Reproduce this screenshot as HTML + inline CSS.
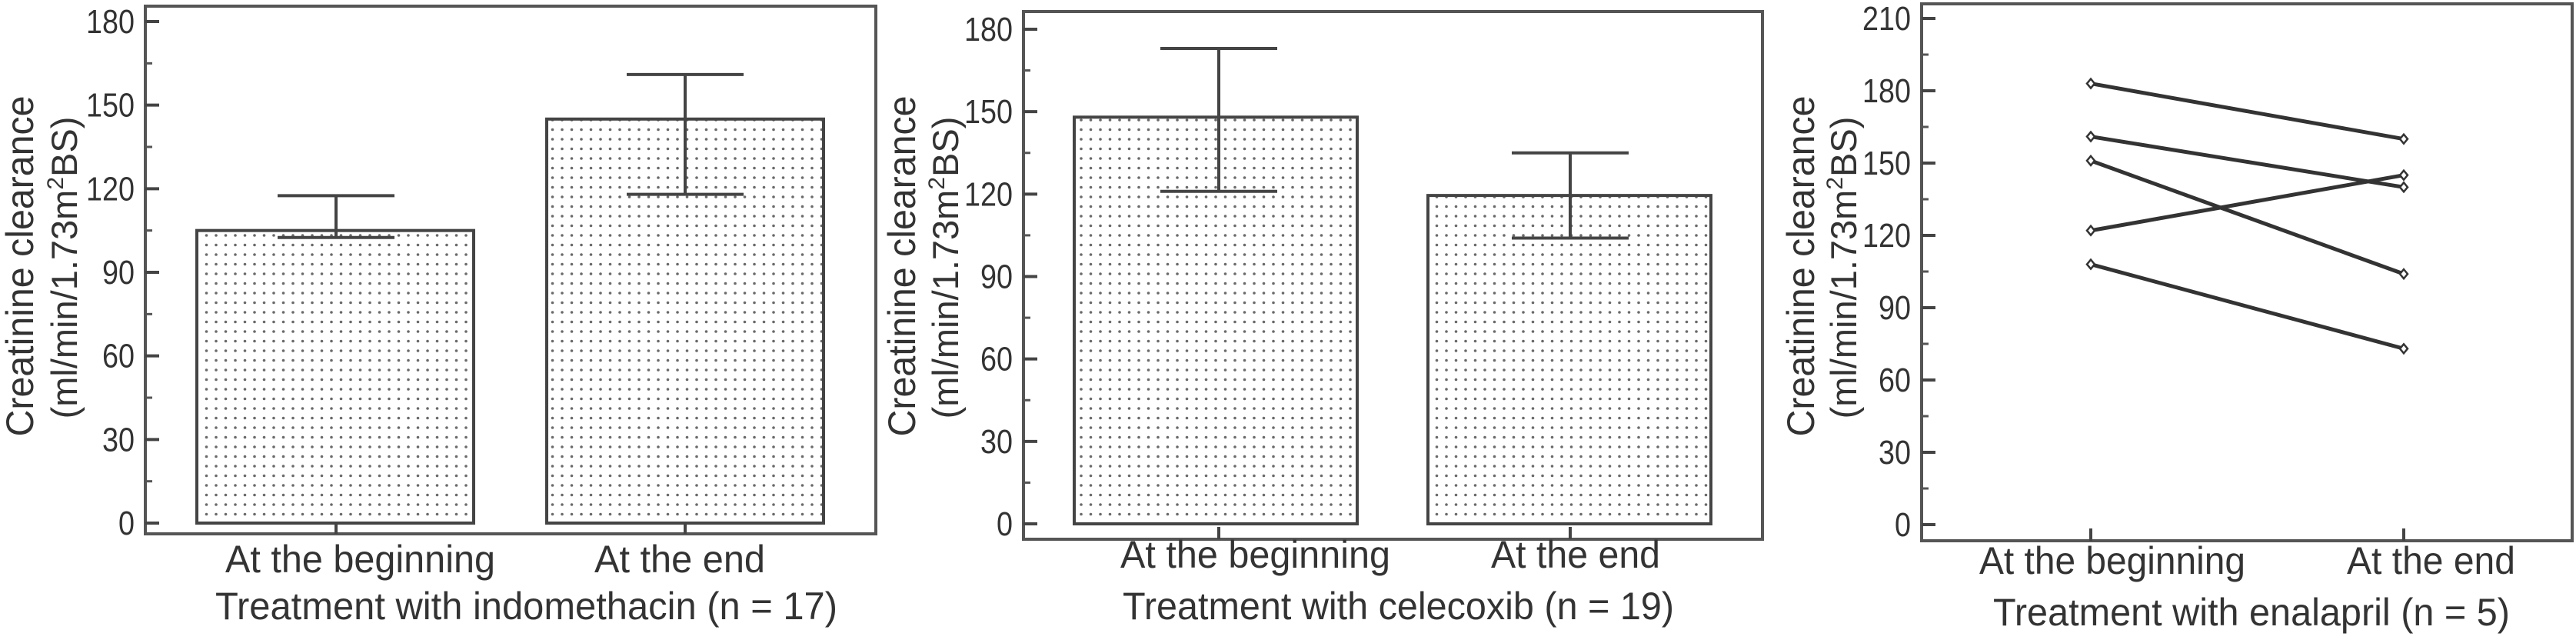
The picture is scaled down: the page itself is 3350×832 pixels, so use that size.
<!DOCTYPE html>
<html><head><meta charset="utf-8"><style>
html,body{margin:0;padding:0;background:#fff;}
svg{display:block;}
text{font-family:"Liberation Sans",sans-serif;fill:#333;}
</style></head><body>
<svg id="chart" width="3350" height="832" viewBox="0 0 3350 832" xmlns="http://www.w3.org/2000/svg">
<defs>
<pattern id="dots" width="12.5" height="12.5" patternUnits="userSpaceOnUse">
<rect width="12.5" height="12.5" fill="#fff"/>
<circle cx="6" cy="6" r="1.8" fill="#6a6a6a"/>
</pattern>
</defs>
</svg>
<script>
const categories = ["At the beginning", "At the end"];
const indoMeans = [105, 145];
const indoLow = [102.5, 118];
const indoHigh = [117.5, 161];
const celeMeans = [148, 119.5];
const celeLow = [121, 104];
const celeHigh = [173, 135];
const enalaprilBegin = [183, 161, 151, 122, 108];
const enalaprilEnd = [160, 140, 104, 145, 73];
const ticks180 = [0, 30, 60, 90, 120, 150, 180];
const ticks210 = [0, 30, 60, 90, 120, 150, 180, 210];
const titles = ["Treatment with indomethacin (n = 17)", "Treatment with celecoxib (n = 19)", "Treatment with enalapril (n = 5)"];

const NS = "http://www.w3.org/2000/svg";
const svg = document.getElementById("chart");
function mk(tag, attrs, parent) {
  const e = document.createElementNS(NS, tag);
  for (const k in attrs) e.setAttribute(k, attrs[k]);
  (parent || svg).appendChild(e);
  return e;
}
function txt(str, attrs, parent) {
  const t = mk("text", attrs, parent);
  t.textContent = str;
  return t;
}

function panel(p) {
  const g = mk("g", {});
  
  
  const y = v => p.y0 + (p.yTop - p.y0) * v / p.max;
  const fr = mk("rect", {x: p.fl, y: p.ft, width: p.fr - p.fl, height: p.fb - p.ft, fill: "none", stroke: "#555", "stroke-width": 4}, g);
  
  
  const ticks = p.ticks;
  for (let i = 0; i < ticks.length; i++) {
    const v = ticks[i];
    const tk = mk("line", {x1: p.fl, x2: p.fl + 18, y1: y(v), y2: y(v), stroke: "#444", "stroke-width": 4}, g);
    
    
    if (i < ticks.length - 1) {
      const mv = v + 15;
      const mt = mk("line", {x1: p.fl, x2: p.fl + 9, y1: y(mv), y2: y(mv), stroke: "#555", "stroke-width": 3}, g);
      
      
    }
    const s = String(v);
    const lb = txt(s, {x: p.labR, y: y(v) + 15, "text-anchor": "end", "font-size": 44, textLength: s.length * 21, lengthAdjust: "spacingAndGlyphs"}, g);
    
    
  }
  const yt1 = txt("Creatinine clearance", {x: 0, y: 0, "text-anchor": "middle", "font-size": 50, textLength: 443, lengthAdjust: "spacingAndGlyphs", transform: `translate(${p.yl1},346) rotate(-90)`}, g);
  
  
  const yt2 = txt("", {x: 0, y: 0, "text-anchor": "middle", "font-size": 47, transform: `translate(${p.yl2},348) rotate(-90)`}, g);
  
  
  const a = mk("tspan", {}, yt2); a.textContent = "(ml/min/1.73m";
  const b = mk("tspan", {dy: -18, "font-size": 30}, yt2); b.textContent = "2";
  const c = mk("tspan", {dy: 18}, yt2); c.textContent = "BS)";
  for (let i = 0; i < categories.length; i++) {
    const xt = mk("line", {x1: p.cx[i], x2: p.cx[i], y1: p.fb, y2: p.fb - 16, stroke: "#444", "stroke-width": 4}, g);
    
    
    const cl = txt(categories[i], {x: p.catL[i], y: p.catY, "font-size": 50, textLength: p.catW[i], lengthAdjust: "spacingAndGlyphs"}, g);
    
    
  }
  const tt = txt(p.title, {x: p.tL, y: p.tY, "font-size": 50, textLength: p.tW, lengthAdjust: "spacingAndGlyphs"}, g);
  
  
  return {g, y};
}

function barPanel(p, means, lows, highs) {
  const {g, y} = panel(p);
  for (let i = 0; i < means.length; i++) {
    const r = mk("rect", {x: p.barL[i], y: y(means[i]), width: p.barW, height: y(0) - y(means[i]), fill: "url(#dots)", stroke: "#444", "stroke-width": 4}, g);
    
    
    const cx = p.cx[i];
    const el = mk("path", {d: `M${cx},${y(lows[i])}V${y(highs[i])}M${cx - 76},${y(highs[i])}H${cx + 76}M${cx - 76},${y(lows[i])}H${cx + 76}`, stroke: "#444", "stroke-width": 4, fill: "none"}, g);
    
    
  }
}

barPanel({name: "indomethacin-panel", fl: 189, ft: 8, fr: 1139, fb: 694, y0: 680, yTop: 28, max: 180, ticks: ticks180, labR: 175,
  yl1: 43, yl2: 100, cx: [437, 891], catL: [293, 773], catW: [351, 222], catY: 744,
  title: titles[0], tL: 280, tY: 805, tW: 809, barL: [256, 711], barW: 360}, indoMeans, indoLow, indoHigh);

barPanel({name: "celecoxib-panel", fl: 1331, ft: 15, fr: 2292, fb: 701, y0: 681, yTop: 38, max: 180, ticks: ticks180, labR: 1317,
  yl1: 1190, yl2: 1246, cx: [1585, 2042], catL: [1457, 1939], catW: [351, 220], catY: 738,
  title: titles[1], tL: 1460, tY: 805, tW: 717, barL: [1397, 1857], barW: 368}, celeMeans, celeLow, celeHigh);

(function () {
  const p = {name: "enalapril-panel", fl: 2499, ft: 5, fr: 3345, fb: 703, y0: 682, yTop: 24, max: 210, ticks: ticks210, labR: 2485,
    yl1: 2359, yl2: 2414, cx: [2719, 3126], catL: [2574, 3052], catW: [346, 219], catY: 746,
    title: titles[2], tL: 2592, tY: 813, tW: 672};
  const {g, y} = panel(p);
  for (let i = 0; i < enalaprilBegin.length; i++) {
    const ln = mk("line", {x1: p.cx[0], y1: y(enalaprilBegin[i]), x2: p.cx[1], y2: y(enalaprilEnd[i]), stroke: "#333", "stroke-width": 5}, g);
    
    
    [[p.cx[0], enalaprilBegin[i]], [p.cx[1], enalaprilEnd[i]]].forEach(([x, v]) => {
      const yy = y(v);
      const m = mk("path", {d: `M${x},${yy - 6}L${x + 5},${yy}L${x},${yy + 6}L${x - 5},${yy}Z`, fill: "#fff", stroke: "#333", "stroke-width": 2.5}, g);
      
      
    });
  }
})();
</script>
</body></html>
